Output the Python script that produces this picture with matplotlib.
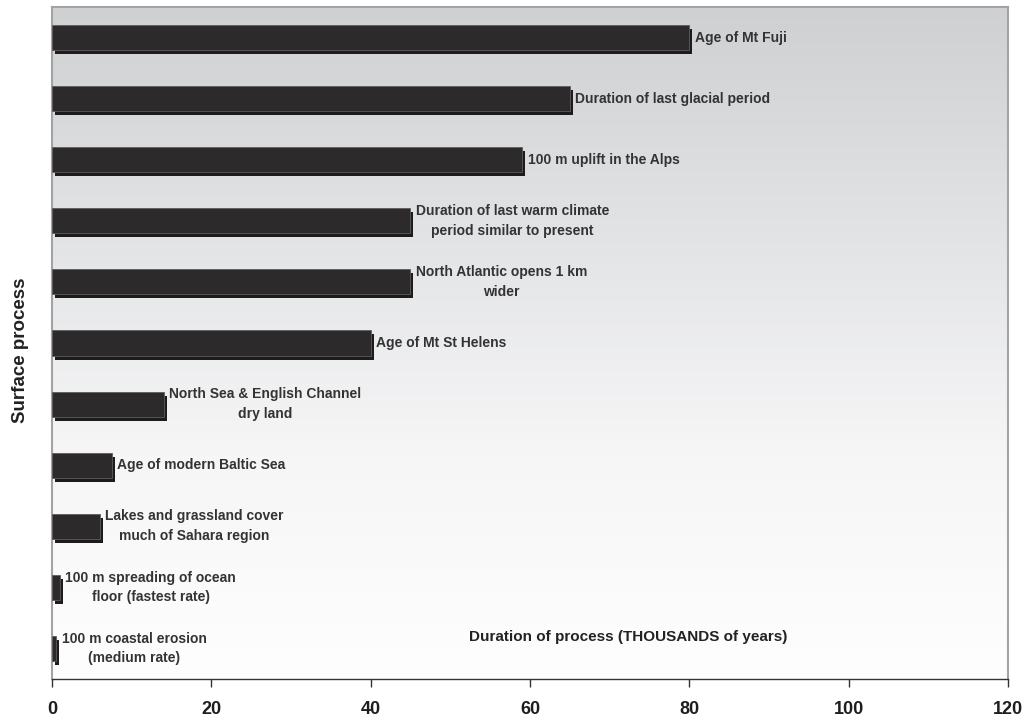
import numpy as np
import matplotlib
matplotlib.use("Agg")
import matplotlib.pyplot as plt
import matplotlib.transforms as mtransforms

# Surface processes and their durations (thousands of years), top to bottom
processes = [
    "Age of Mt Fuji",
    "Duration of last glacial period",
    "100 m uplift in the Alps",
    "Duration of last warm climate\nperiod similar to present",
    "North Atlantic opens 1 km\nwider",
    "Age of Mt St Helens",
    "North Sea & English Channel\ndry land",
    "Age of modern Baltic Sea",
    "Lakes and grassland cover\nmuch of Sahara region",
    "100 m spreading of ocean\nfloor (fastest rate)",
    "100 m coastal erosion\n(medium rate)",
]
durations = [80, 65, 59, 45, 45, 40, 14, 7.5, 6, 1, 0.5]
xticks = [0, 20, 40, 60, 80, 100, 120]

plt.rcParams["font.family"] = ["Liberation Sans", "DejaVu Sans"]
plt.rcParams["font.weight"] = "bold"

fig = plt.figure(figsize=(10.29, 7.2), dpi=100)
ax = fig.add_axes([0.0505, 0.0569, 0.9291, 0.9334])

n = len(processes)
ypos = np.arange(n)

# vertical gray-to-white gradient background
grad = np.linspace(0, 1, 256).reshape(-1, 1)
cmap = matplotlib.colors.LinearSegmentedColormap.from_list(
    "bg", ["#fefefe", "#f6f6f7", "#e2e3e5", "#cfd0d2"])
ax.imshow(grad, extent=[0, 1, 0, 1], transform=ax.transAxes, aspect="auto",
          cmap=cmap, origin="lower", zorder=0)

bar_h = 0.41
# drop shadow: same bars shifted right/down by a few pixels
shadow = ax.transData + mtransforms.ScaledTranslation(3 / 100, -4 / 100, fig.dpi_scale_trans)
ax.barh(ypos, durations, height=bar_h, color="#1d1b1c", transform=shadow, zorder=2)
ax.barh(ypos, durations, height=bar_h, color="#2d2a2b", edgecolor="#5e5c5d",
        linewidth=0.6, zorder=3)

for y, v, lab in zip(ypos, durations, processes):
    ax.annotate(lab, xy=(v, y), xytext=(4, 0), textcoords="offset points",
                ha="left", va="center", multialignment="center",
                fontsize=10, fontweight="bold", color="#333333",
                linespacing=1.52, zorder=4)

ax.set_xlim(0, 120)
ax.set_ylim(n - 0.5, -0.5)
ax.set_xticks(xticks)
ax.set_xticklabels([str(t) for t in xticks], fontsize=13, fontweight="bold",
                   color="#1e1e1e")
ax.set_yticks([])
ax.tick_params(axis="x", length=6, width=1, color="#333333", pad=10)

for side in ("left", "top", "right"):
    ax.spines[side].set_color("#a3a3a3")
    ax.spines[side].set_linewidth(1.5)
ax.spines["bottom"].set_color("#333333")
ax.spines["bottom"].set_linewidth(1.0)

ax.text(0.6025, 0.0626, "Duration of process (THOUSANDS of years)",
        transform=ax.transAxes, ha="center", va="center", fontsize=11,
        fontweight="bold", color="#222222", zorder=4)

fig.text(0.0195, 0.514, "Surface process", rotation=90, ha="center",
         va="center", fontsize=13.5, fontweight="bold", color="#222222")

fig.savefig("out.png", dpi=100)
